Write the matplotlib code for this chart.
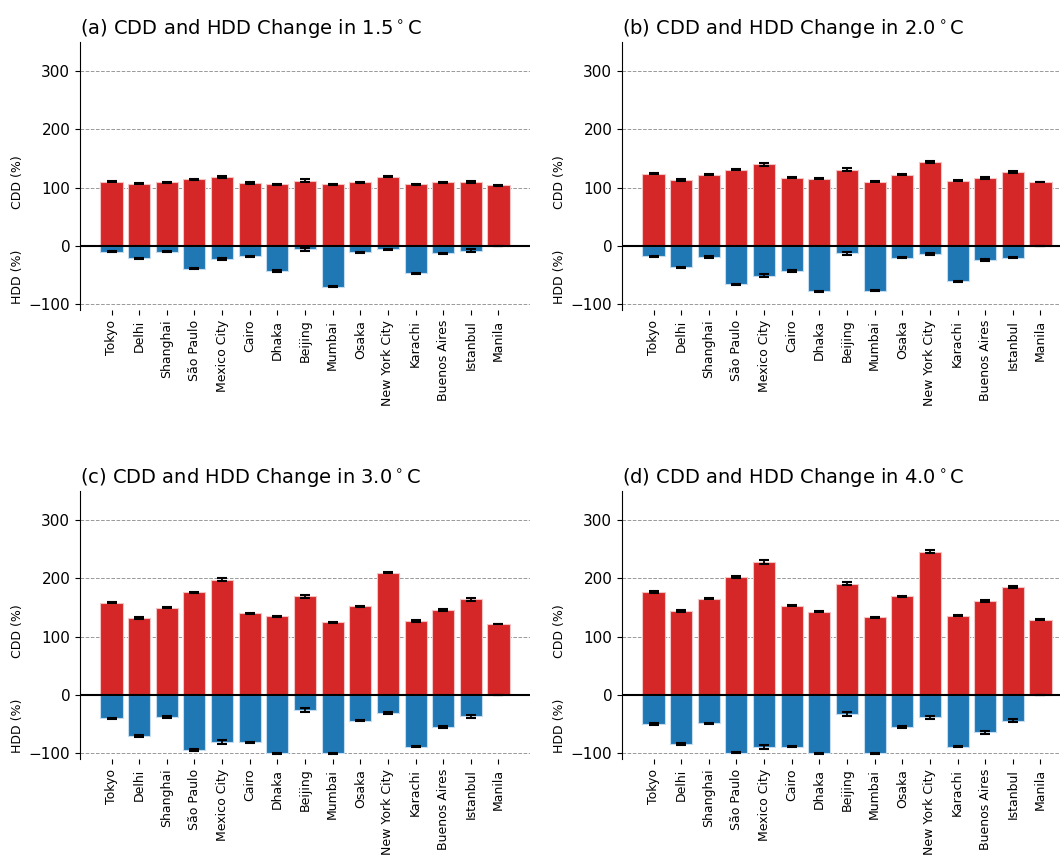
import matplotlib

matplotlib.use("Agg")
import matplotlib.pyplot as plt
import matplotlib.transforms as mtransforms
import numpy as np

CITIES = [
    "Tokyo", "Delhi", "Shanghai", "São Paulo", "Mexico City", "Cairo", "Dhaka",
    "Beijing", "Mumbai", "Osaka", "New York City", "Karachi", "Buenos Aires",
    "Istanbul", "Manila",
]
LEVELS = ["1.5", "2.0", "3.0", "4.0"]
PANEL_TAGS = ["a", "b", "c", "d"]

# percent change in cooling degree days, per warming level
CDD_15 = [110, 107, 109, 114, 118, 108, 106, 112, 106, 109, 119, 106, 109, 110, 104]
CDD_20 = [124, 113, 122, 131, 140, 117, 115, 131, 110, 122, 144, 112, 116, 127, 110]
CDD_30 = [158, 132, 150, 176, 198, 140, 135, 169, 125, 152, 210, 127, 146, 164, 122]
CDD_40 = [177, 144, 165, 202, 228, 153, 143, 191, 133, 169, 246, 136, 161, 185, 129]

# percent change in heating degree days (negative = fewer)
HDD_15 = [-10, -21, -10, -39, -23, -18, -43, -6, -70, -11, -6, -47, -13, -8, 0]
HDD_20 = [-18, -37, -19, -66, -51, -43, -78, -13, -77, -20, -14, -61, -24, -20, 0]
HDD_30 = [-40, -70, -38, -94, -81, -81, -100, -26, -100, -44, -31, -89, -55, -37, 0]
HDD_40 = [-50, -84, -49, -99, -89, -89, -100, -33, -100, -55, -38, -89, -64, -44, 0]

# ensemble spread (half-width of error bars)
CDD_ERR_15 = [1, 1.5, 1, 1, 1.5, 1, 1, 2.5, 1, 1, 1, 1, 1.5, 2, 0.5]
CDD_ERR_20 = [1, 1.5, 1, 1.5, 2, 1, 1, 3, 1, 1, 1.5, 1, 2, 1.5, 0.5]
CDD_ERR_30 = [1, 2, 1, 1.5, 3, 1, 1, 3, 1, 1, 1.5, 1, 2, 2, 0.5]
CDD_ERR_40 = [1.5, 2, 1, 1.5, 3, 1, 1, 3, 1, 1, 2.5, 1, 2, 2, 0.5]
HDD_ERR_15 = [1, 1, 1, 1, 1.5, 1, 1, 2.5, 1, 1, 1, 1, 1.5, 2, 0]
HDD_ERR_20 = [1, 1.5, 1, 1, 2, 1, 1, 2.5, 1, 1, 1, 1, 1.5, 1.5, 0]
HDD_ERR_30 = [1, 1.5, 1, 1.5, 3, 1, 1, 3, 1, 1, 1.5, 1, 2.5, 2, 0]
HDD_ERR_40 = [1.5, 1.5, 1, 1.5, 3, 1, 1, 3, 1, 1, 2.5, 1, 2.5, 2.5, 0]

CDD = [CDD_15, CDD_20, CDD_30, CDD_40]
HDD = [HDD_15, HDD_20, HDD_30, HDD_40]
CDD_ERR = [CDD_ERR_15, CDD_ERR_20, CDD_ERR_30, CDD_ERR_40]
HDD_ERR = [HDD_ERR_15, HDD_ERR_20, HDD_ERR_30, HDD_ERR_40]

RED = "#d62728"
BLUE = "#1f77b4"

fig = plt.figure(figsize=(10.6, 8.6), dpi=100)
W, H = 1060.0, 860.0
# axes boxes in pixels: left, top, width, height
boxes = [(80, 42), (622, 42), (80, 491), (622, 491)]

for i, (left, top) in enumerate(boxes):
    ax = fig.add_axes([left / W, 1 - (top + 268) / H, 450 / W, 268 / H])
    x = np.arange(len(CITIES))
    ax.bar(x, CDD[i], width=0.8, color=RED, edgecolor="#f4c4c4", linewidth=0.8,
           zorder=2)
    ax.bar(x, HDD[i], width=0.8, color=BLUE, edgecolor="#c4dcef", linewidth=0.8,
           zorder=2)
    ax.errorbar(x, CDD[i], yerr=CDD_ERR[i], fmt="none", ecolor="black",
                elinewidth=1.3, capsize=3.5, capthick=1.5, zorder=3)
    ax.errorbar(x, HDD[i], yerr=HDD_ERR[i], fmt="none", ecolor="black",
                elinewidth=1.3, capsize=3.5, capthick=1.5, zorder=3)
    ax.axhline(0, color="black", lw=1.5, zorder=4)

    ax.set_ylim(-110, 350)
    ax.set_yticks([-100, 0, 100, 200, 300])
    ax.set_xticks(x)
    ax.set_xticklabels(CITIES, rotation=90, fontsize=9)
    ax.tick_params(axis="y", labelsize=11)
    ax.yaxis.grid(True, ls="--", color="gray", lw=0.7, alpha=0.8)
    ax.set_axisbelow(True)
    for side in ("top", "right", "bottom"):
        ax.spines[side].set_visible(False)

    trans = mtransforms.blended_transform_factory(ax.transAxes, ax.transData)
    ax.text(-0.138, 110, "CDD (%)", transform=trans, rotation=90,
            ha="center", va="center", fontsize=9)
    ax.text(-0.138, -53, "HDD (%)", transform=trans, rotation=90,
            ha="center", va="center", fontsize=9)

    ax.set_title(f"({PANEL_TAGS[i]}) CDD and HDD Change in {LEVELS[i]}$^\\circ$C",
                 loc="left", fontsize=14)

fig.savefig("out.png", dpi=100)
